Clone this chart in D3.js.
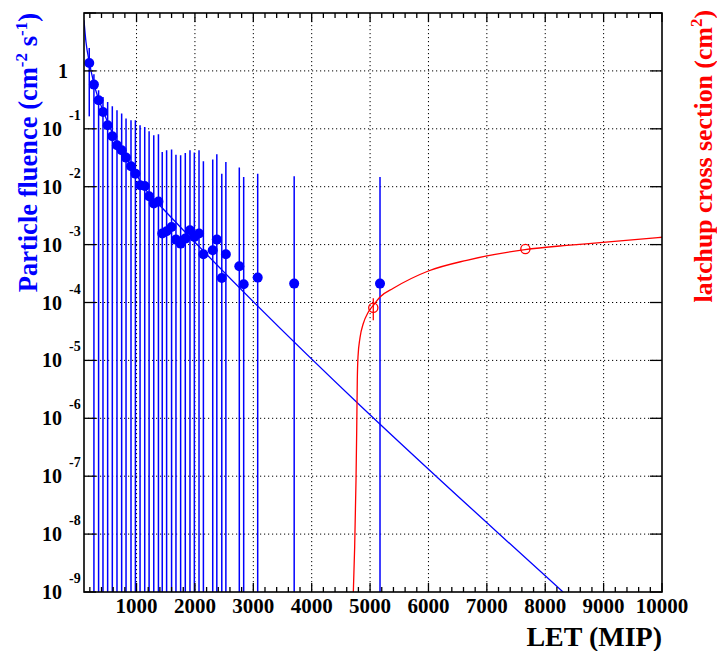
<!DOCTYPE html>
<html>
<head>
<meta charset="utf-8">
<script src="https://cdn.jsdelivr.net/npm/d3@7"></script>
<style>
  html, body { margin: 0; padding: 0; background: #fff; }
  svg { display: block; }
  text { font-family: "Liberation Serif", "Times New Roman", serif; font-weight: bold; }
</style>
</head>
<body>
<svg id="chart" width="717" height="651"></svg>
<script>
// Particle fluence spectrum (left axis) vs LET
const fluenceLET   = [190, 270, 350, 425, 505, 585, 665, 745, 820, 905, 980, 1060, 1140, 1215, 1295, 1375,
                      1440, 1515, 1600, 1675, 1755, 1835, 1915, 1990, 2070, 2145, 2305, 2375, 2460, 2530,
                      2760, 2835, 3075, 3700, 5170];
const fluenceValue = [1.37, 0.580, 0.311, 0.195, 0.115, 0.0742, 0.0519, 0.0425, 0.0318, 0.0225, 0.0168, 0.01057,
                      0.01028, 0.00683, 0.00511, 0.00553, 0.00155, 0.00170, 0.00201, 0.00122, 0.00104, 0.00127,
                      0.00177, 0.00135, 0.00155, 0.000679, 0.000798, 0.00122, 0.000265, 0.000679, 0.000422,
                      0.000206, 0.000269, 0.000212, 0.000212];
const fluenceUpper = [2.49, 0.874, 0.462, 0.354, 0.290, 0.245, 0.209, 0.183, 0.150, 0.140, 0.140, 0.115,
                      0.107, 0.0906, 0.0773, 0.0804, 0.0397, 0.0425, 0.0437, 0.0358, 0.0348, 0.0382,
                      0.0425, 0.0388, 0.0425, 0.0275, 0.0294, 0.0363, 0.0168, 0.0267, 0.0214,
                      0.0147, 0.0168, 0.0151, 0.0147];
// lower error edge; 0 means the bar runs off the bottom of the log axis
const fluenceLower = [0.164, 0, 0, 0, 0, 0, 0, 0, 0, 0, 0, 0, 0, 0, 0, 0, 0, 0, 0, 0, 0, 0, 0, 0, 0, 0, 0, 0, 0, 0, 0, 0, 0, 0, 0];

// Fitted fluence spectrum
const fitLET   = [100, 134, 190, 270, 430, 600, 800, 1000, 1200, 1400, 8305];
const fitValue = [7.48, 3.16, 1.43, 0.603, 0.200, 0.0794, 0.0339, 0.0158, 0.00776, 0.00473, 1e-9];

// Latchup cross section measurements (right axis)
const xsecLET   = [5055, 7660];
const xsecValue = [8.1e-8, 8.4e-7];
const xsecLow   = [4.93e-8, 8.4e-7];
const xsecHigh  = [1.18e-7, 8.4e-7];

// Weibull-type fit of the cross section
const xfitLET   = [4713, 4736, 4759, 4771, 4781, 4793, 4827, 4884, 4970, 5056, 5170, 5398, 5998, 6655, 7654, 8368, 8939, 10000];
const xfitValue = [1.0e-12, 6.0e-12, 8.5e-11, 6.2e-10, 4.5e-9, 1.15e-8, 2.45e-8, 4.33e-8, 6.86e-8, 8.95e-8,
                   1.245e-7, 1.76e-7, 3.5e-7, 5.36e-7, 8.2e-7, 9.7e-7, 1.08e-6, 1.34e-6];

const xTicks = [1000, 2000, 3000, 4000, 5000, 6000, 7000, 8000, 9000, 10000];
const leftDecadeExp = [-9, -8, -7, -6, -5, -4, -3, -2, -1, 0];

const frame = { left: 84, right: 662, top: 13, bottom: 592 };
const BLUE = "#0000ff", RED = "#ff0000";

const svg = d3.select("#chart");

const x  = d3.scaleLinear().domain([100, 10000]).range([frame.left, frame.right]);
const yL = d3.scaleLog().domain([1e-9, 10]).range([frame.bottom, frame.top]);
const yR = d3.scaleLog().domain([1e-12, 1e-2]).range([frame.bottom, frame.top]);

svg.append("defs").append("clipPath").attr("id", "plotClip")
  .append("rect")
  .attr("x", frame.left).attr("y", frame.top)
  .attr("width", frame.right - frame.left).attr("height", frame.bottom - frame.top);

// Grid
const grid = svg.append("g").attr("stroke", "#000").attr("stroke-width", 1).attr("stroke-dasharray", "1.2,2.8");
xTicks.filter(t => t < 10000).forEach(t => {
  grid.append("line").attr("x1", x(t)).attr("x2", x(t)).attr("y1", frame.top).attr("y2", frame.bottom);
});
leftDecadeExp.filter(e => e > -9).forEach(e => {
  const yy = yL(Math.pow(10, e));
  grid.append("line").attr("x1", frame.left).attr("x2", frame.right).attr("y1", yy).attr("y2", yy);
});

const plot = svg.append("g").attr("clip-path", "url(#plotClip)");

// Fluence error bars
const pts = fluenceLET.map((l, i) => ({ l, v: fluenceValue[i], up: fluenceUpper[i], lo: fluenceLower[i] }));
plot.append("g").selectAll("line").data(pts).join("line")
  .attr("x1", d => x(d.l)).attr("x2", d => x(d.l))
  .attr("y1", d => yL(d.up))
  .attr("y2", d => d.lo > 0 ? yL(d.lo) : frame.bottom + 5)
  .attr("stroke", BLUE).attr("stroke-width", 1.5);

// Fluence fit line
const fitLine = d3.line().x(d => x(d[0])).y(d => yL(d[1])).curve(d3.curveMonotoneX);
plot.append("path").datum(fitLET.map((l, i) => [l, fitValue[i]]))
  .attr("d", fitLine).attr("fill", "none").attr("stroke", BLUE).attr("stroke-width", 1.3);

// Fluence markers
plot.append("g").selectAll("circle").data(pts).join("circle")
  .attr("cx", d => x(d.l)).attr("cy", d => yL(d.v)).attr("r", 5)
  .attr("fill", BLUE);

// Cross section fit
const xfitLine = d3.line().x(d => x(d[0])).y(d => yR(d[1])).curve(d3.curveMonotoneX);
plot.append("path").datum(xfitLET.map((l, i) => [l, xfitValue[i]]))
  .attr("d", xfitLine).attr("fill", "none").attr("stroke", RED).attr("stroke-width", 1.3);

// Cross section points
const xs = xsecLET.map((l, i) => ({ l, v: xsecValue[i], lo: xsecLow[i], hi: xsecHigh[i] }));
plot.append("g").selectAll("line").data(xs).join("line")
  .attr("x1", d => x(d.l)).attr("x2", d => x(d.l))
  .attr("y1", d => yR(d.hi)).attr("y2", d => yR(d.lo))
  .attr("stroke", RED).attr("stroke-width", 1.3);
plot.append("g").selectAll("circle").data(xs).join("circle")
  .attr("cx", d => x(d.l)).attr("cy", d => yR(d.v)).attr("r", 4.6)
  .attr("fill", "none").attr("stroke", RED).attr("stroke-width", 1.3);

// Frame
svg.append("rect")
  .attr("x", frame.left).attr("y", frame.top)
  .attr("width", frame.right - frame.left).attr("height", frame.bottom - frame.top)
  .attr("fill", "none").attr("stroke", "#000").attr("stroke-width", 1.6);

// X ticks (bottom and top), minor every 200
const tickG = svg.append("g").attr("stroke", "#000").attr("stroke-width", 1.3);
d3.range(200, 10001, 200).forEach(t => {
  const major = t % 1000 === 0;
  const len = major ? 9 : 5;
  const xx = x(t);
  tickG.append("line").attr("x1", xx).attr("x2", xx).attr("y1", frame.bottom).attr("y2", frame.bottom - len);
  tickG.append("line").attr("x1", xx).attr("x2", xx).attr("y1", frame.top).attr("y2", frame.top + len);
});

// Log ticks on left and right axes
function logTicks(scale, xEdge, dir) {
  scale.ticks().forEach(t => {
    const e = Math.log10(t);
    const major = Math.abs(e - Math.round(e)) < 1e-9;
    const len = major ? 12 : 6;
    const yy = scale(t);
    if (yy < frame.top - 0.5 || yy > frame.bottom + 0.5) return;
    tickG.append("line").attr("x1", xEdge).attr("x2", xEdge + dir * len).attr("y1", yy).attr("y2", yy);
  });
}
logTicks(yL, frame.left, 1);
logTicks(yR, frame.right, -1);

// X tick labels
svg.append("g").selectAll("text").data(xTicks).join("text")
  .attr("x", d => x(d)).attr("y", 613)
  .attr("text-anchor", "middle").attr("font-size", 21).attr("fill", "#000")
  .text(d => d);

// Left tick labels
const yLab = svg.append("g").attr("fill", "#000");
leftDecadeExp.forEach(e => {
  const yy = yL(Math.pow(10, e));
  if (e === 0) {
    yLab.append("text").attr("x", 68).attr("y", yy + 7).attr("text-anchor", "end")
      .attr("font-size", 20).text("1");
  } else {
    yLab.append("text").attr("x", 62).attr("y", yy + 7).attr("text-anchor", "end")
      .attr("font-size", 20).text("10");
    yLab.append("text").attr("x", 69).attr("y", yy - 9).attr("text-anchor", "start")
      .attr("font-size", 14).text(String(e));
  }
});

// Axis titles
svg.append("text").attr("x", frame.right).attr("y", 646)
  .attr("text-anchor", "end").attr("font-size", 28).attr("fill", "#000")
  .text("LET (MIP)");

const leftTitle = svg.append("text")
  .attr("transform", `translate(37, ${frame.top}) rotate(-90)`)
  .attr("text-anchor", "end").attr("font-size", 26.5).attr("fill", BLUE);
leftTitle.append("tspan").text("Particle fluence (cm");
leftTitle.append("tspan").attr("dy", -10).attr("font-size", 17).text("-2");
leftTitle.append("tspan").attr("dy", 10).text(" s");
leftTitle.append("tspan").attr("dy", -10).attr("font-size", 17).text("-1");
leftTitle.append("tspan").attr("dy", 10).text(")");

const rightTitle = svg.append("text")
  .attr("transform", `translate(712, 10) rotate(-90)`)
  .attr("text-anchor", "end").attr("font-size", 25.8).attr("fill", RED);
rightTitle.append("tspan").text("latchup cross section (cm");
rightTitle.append("tspan").attr("dy", -10).attr("font-size", 17).text("2");
rightTitle.append("tspan").attr("dy", 10).text(")");
</script>
</body>
</html>
